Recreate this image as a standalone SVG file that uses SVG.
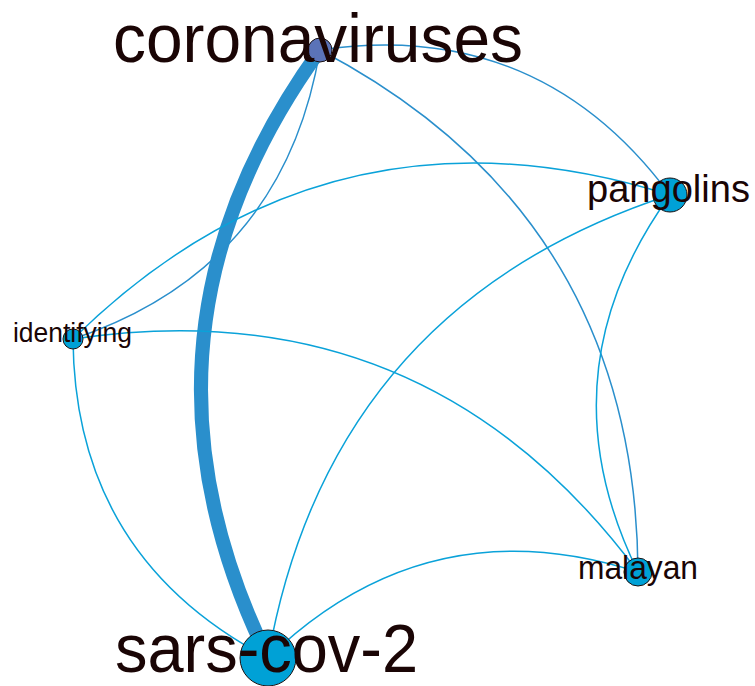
<svg xmlns="http://www.w3.org/2000/svg" width="755" height="686" viewBox="0 0 755 686">
<style>
.e{fill:none;stroke:#0aa2d9;stroke-width:1.5}
.ec{fill:none;stroke:#2a8fcc;stroke-width:1.5}
.n{stroke:#1a1010;stroke-width:1}
.t{font-family:"Liberation Sans",Arial,sans-serif;fill:#1a0505;text-anchor:middle}
</style>
<rect width="755" height="686" fill="#ffffff"/>
<g id="edges">
<path class="ec" d="M268,658 Q111.6,338.4 320,50" style="stroke-width:14"/>
<path class="ec" d="M320,50 Q538.5,17.5 670,195"/>
<path class="ec" d="M320,50 Q283.2,268.6 73,339"/>
<path class="ec" d="M320,50 Q635.6,215.6 638,572"/>
<path class="e" d="M73,339 Q328.3,87.9 670,195"/>
<path class="e" d="M73,339 Q425.4,286 638,572"/>
<path class="e" d="M268,658 Q74.8,557 73,339"/>
<path class="e" d="M268,658 Q330.1,305.9 670,195"/>
<path class="e" d="M638,572 Q540.9,373.9 670,195"/>
<path class="e" d="M268,658 Q427.2,504 638,572"/>
</g>
<g id="node-coronaviruses">
<circle class="n" cx="320" cy="50" r="12" fill="#5b73b8"/>
</g>
<g id="node-pangolins">
<circle class="n" cx="670" cy="195" r="17" fill="#00a1d6"/>
</g>
<g id="node-identifying">
<circle class="n" cx="73" cy="339" r="10" fill="#00a1d6"/>
</g>
<g id="node-malayan">
<circle class="n" cx="638" cy="572" r="14" fill="#00a1d6"/>
</g>
<g id="node-sars-cov-2">
<circle class="n" cx="268" cy="658" r="28" fill="#00a1d6"/>
</g>
<g id="labels">
<text class="t" x="318" y="62" font-size="69" textLength="410" lengthAdjust="spacingAndGlyphs">coronaviruses</text>
<text class="t" x="668.5" y="202" font-size="39" textLength="163" lengthAdjust="spacingAndGlyphs">pangolins</text>
<text class="t" x="72.5" y="342" font-size="27.5" textLength="119" lengthAdjust="spacingAndGlyphs">identifying</text>
<text class="t" x="638" y="579" font-size="33" textLength="120" lengthAdjust="spacingAndGlyphs">malayan</text>
<text class="t" x="266.5" y="672" font-size="68" textLength="303" lengthAdjust="spacingAndGlyphs">sars-cov-2</text>
</g>
</svg>
